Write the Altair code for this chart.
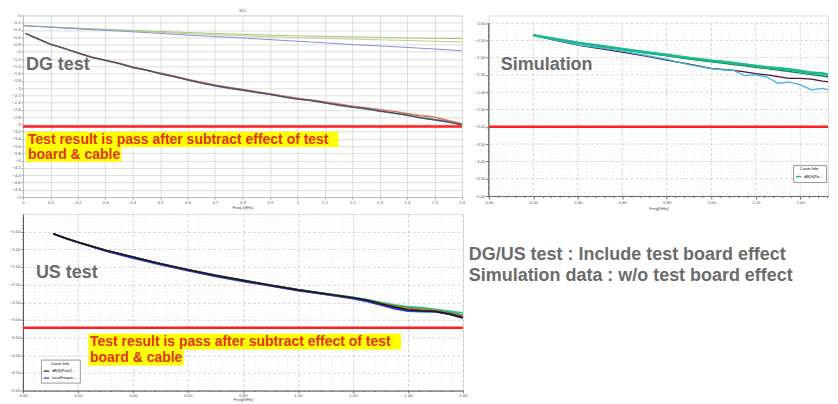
import altair as alt
import pandas as pd

FONT = "Liberation Sans"
GRAY_TXT = "#6b6b6b"
RED_TXT = "#e2311d"
YELLOW = "#ffff00"
LIMIT_RED = "#ff1f1f"

# ---------------- DG test (S12) ----------------
dg_freq = [0.01, 0.05, 0.10, 0.15, 0.20, 0.25, 0.30, 0.35, 0.40, 0.45, 0.50,
           0.55, 0.60, 0.65, 0.70, 0.75, 0.80, 0.85, 0.90, 0.95, 1.00, 1.05,
           1.10, 1.15, 1.20, 1.25, 1.30, 1.35, 1.40, 1.45, 1.50, 1.55, 1.60]
dg_orange = [-0.49, -0.62, -0.78, -0.90, -1.02, -1.14, -1.22, -1.31, -1.42, -1.49, -1.59,
             -1.67, -1.75, -1.84, -1.92, -1.97, -2.04, -2.09, -2.16, -2.21, -2.27, -2.32,
             -2.37, -2.43, -2.49, -2.53, -2.58, -2.63, -2.69, -2.74, -2.79, -2.88, -2.97]
dg_green = [-0.51, -0.64, -0.80, -0.90, -1.04, -1.16, -1.22, -1.33, -1.44, -1.49, -1.61,
            -1.69, -1.78, -1.85, -1.94, -2.00, -2.06, -2.12, -2.16, -2.25, -2.29, -2.35,
            -2.41, -2.47, -2.51, -2.58, -2.62, -2.69, -2.73, -2.80, -2.85, -2.91, -2.99]
dg_cyan = [-0.50, -0.63, -0.79, -0.92, -1.03, -1.15, -1.25, -1.32, -1.42, -1.52, -1.60,
           -1.67, -1.79, -1.85, -1.95, -2.00, -2.07, -2.13, -2.18, -2.23, -2.31, -2.34,
           -2.42, -2.47, -2.53, -2.59, -2.64, -2.70, -2.76, -2.81, -2.89, -2.94, -3.02]
dg_red = [-0.50, -0.62, -0.78, -0.91, -1.02, -1.14, -1.24, -1.31, -1.41, -1.51, -1.58,
          -1.66, -1.76, -1.83, -1.91, -1.98, -2.03, -2.10, -2.15, -2.22, -2.28, -2.34,
          -2.38, -2.44, -2.50, -2.55, -2.60, -2.64, -2.71, -2.77, -2.80, -2.90, -2.98]
dg_purple = [-0.50, -0.64, -0.80, -0.91, -1.04, -1.16, -1.24, -1.33, -1.44, -1.51, -1.61,
             -1.69, -1.78, -1.87, -1.94, -2.01, -2.06, -2.12, -2.18, -2.25, -2.31, -2.35,
             -2.41, -2.48, -2.53, -2.57, -2.64, -2.69, -2.75, -2.83, -2.88, -2.94, -3.02]
dg_dark = [-0.50, -0.63, -0.79, -0.90, -1.03, -1.15, -1.23, -1.32, -1.43, -1.50, -1.60,
           -1.68, -1.77, -1.86, -1.93, -1.99, -2.05, -2.11, -2.17, -2.24, -2.30, -2.33,
           -2.40, -2.46, -2.52, -2.56, -2.63, -2.68, -2.74, -2.82, -2.87, -2.93, -3.01]
dg_ref_freq = [0.0, 0.2, 0.4, 0.6, 0.8, 1.0, 1.2, 1.4, 1.6]
dg_ref_green = [-0.28, -0.35, -0.41, -0.47, -0.52, -0.56, -0.59, -0.62, -0.64]
dg_ref_olive = [-0.28, -0.36, -0.43, -0.50, -0.56, -0.61, -0.65, -0.69, -0.73]
dg_ref_blue = [-0.28, -0.37, -0.45, -0.54, -0.62, -0.71, -0.80, -0.88, -0.97]
dg_limit = -3.06
dg_x_ticks = [round(i * 0.1, 1) for i in range(17)]
dg_y_ticks = [round(-i * 0.2, 1) for i in range(26)]

# ---------------- Simulation ----------------
sim_freq = [0.20, 0.30, 0.40, 0.50, 0.60, 0.70, 0.80, 0.90, 1.00, 1.05, 1.10,
            1.15, 1.20, 1.25, 1.30, 1.35, 1.40, 1.45, 1.50, 1.55, 1.60]
sim_dark = [-0.35, -0.50, -0.64, -0.74, -0.84, -0.95, -1.07, -1.19, -1.31, -1.34, -1.37,
            -1.41, -1.46, -1.50, -1.55, -1.60, -1.60, -1.62, -1.68, -1.71, -1.71]
sim_cyan = [-0.35, -0.49, -0.63, -0.72, -0.81, -0.93, -1.05, -1.20, -1.32, -1.35, -1.37,
            -1.52, -1.50, -1.56, -1.74, -1.71, -1.78, -1.93, -1.89, -1.96, -2.06]
sim_dkteal = [-0.35, -0.47, -0.58, -0.67, -0.77, -0.86, -0.95, -1.04, -1.12, -1.16, -1.20,
              -1.24, -1.28, -1.32, -1.36, -1.40, -1.45, -1.49, -1.53, -1.58, -1.62]
sim_ltgreen = [-0.35, -0.45, -0.56, -0.65, -0.74, -0.83, -0.91, -0.99, -1.07, -1.10, -1.14,
               -1.18, -1.22, -1.26, -1.29, -1.32, -1.37, -1.41, -1.44, -1.50, -1.53]
sim_teal = [-0.35, -0.46, -0.57, -0.66, -0.75, -0.84, -0.92, -1.01, -1.09, -1.12, -1.16,
            -1.20, -1.24, -1.28, -1.31, -1.34, -1.39, -1.44, -1.46, -1.53, -1.56]
sim_limit = -3.0

# ---------------- US test ----------------
us_freq = [0.11, 0.15, 0.20, 0.30, 0.40, 0.50, 0.60, 0.70, 0.80, 0.90, 1.00,
           1.10, 1.20, 1.25, 1.30, 1.35, 1.40, 1.45, 1.50, 1.55, 1.60]
us_teal = [-0.56, -0.67, -0.80, -1.03, -1.22, -1.40, -1.57, -1.73, -1.87, -2.01, -2.14,
           -2.25, -2.36, -2.42, -2.50, -2.57, -2.62, -2.65, -2.70, -2.75, -2.80]
us_green = [-0.56, -0.67, -0.80, -1.03, -1.22, -1.41, -1.58, -1.73, -1.88, -2.01, -2.14,
            -2.25, -2.36, -2.43, -2.51, -2.59, -2.65, -2.68, -2.72, -2.78, -2.86]
us_orange = [-0.56, -0.67, -0.80, -1.03, -1.22, -1.41, -1.58, -1.74, -1.88, -2.02, -2.15,
             -2.26, -2.37, -2.45, -2.53, -2.61, -2.67, -2.71, -2.74, -2.81, -2.90]
us_red = [-0.56, -0.67, -0.80, -1.03, -1.22, -1.41, -1.58, -1.74, -1.89, -2.02, -2.15,
          -2.27, -2.38, -2.45, -2.55, -2.64, -2.72, -2.74, -2.75, -2.82, -2.92]
us_purple = [-0.56, -0.67, -0.80, -1.04, -1.23, -1.42, -1.59, -1.75, -1.89, -2.03, -2.16,
             -2.27, -2.38, -2.46, -2.56, -2.65, -2.73, -2.75, -2.77, -2.84, -2.94]
us_blue = [-0.56, -0.68, -0.81, -1.05, -1.25, -1.44, -1.61, -1.77, -1.91, -2.04, -2.17,
           -2.28, -2.40, -2.48, -2.58, -2.68, -2.75, -2.77, -2.77, -2.84, -2.95]
us_black = [-0.56, -0.67, -0.80, -1.03, -1.22, -1.41, -1.58, -1.74, -1.88, -2.02, -2.15,
            -2.26, -2.37, -2.44, -2.54, -2.63, -2.71, -2.74, -2.76, -2.83, -2.93]
us_limit = -3.22

# ---------------- annotations ----------------
note_lines = ["Test result is pass after subtract effect of test", "board & cable"]
side_lines = ["DG/US test : Include test board effect",
              "Simulation data : w/o test board effect"]


def long_df(freq, series):
    rows = []
    for name, vals in series:
        for f, v in zip(freq, vals):
            rows.append({"freq": f, "value": v, "series": name})
    return pd.DataFrame(rows)


def is_major(v, k):
    return abs(v * k - round(v * k)) < 0.01


def major(k):
    return f"abs(datum.value*{k} - round(datum.value*{k})) < 0.01"


def cond(test, a, b):
    return {"condition": {"test": test, "value": a}, "value": b}


LAB = dict(labelFont=FONT, labelFontSize=4.2, labelColor="#555555",
           titleFont=FONT, titleFontSize=4.2, titleColor="#444444",
           titleFontWeight="normal", labelOverlap=False, labelFlush=False,
           tickCount=300)
t5 = major(5)
t2 = major(2)

# ======== DG chart ========
dg_series = [("ref_olive", dg_ref_olive), ("ref_green", dg_ref_green), ("ref_blue", dg_ref_blue)]
dg_bundle = [("orange", dg_orange), ("green", dg_green), ("cyan", dg_cyan),
             ("red", dg_red), ("purple", dg_purple), ("dark", dg_dark)]
dg_df = pd.concat([long_df(dg_ref_freq, dg_series), long_df(dg_freq, dg_bundle)])
dg_names = [n for n, _ in dg_series] + [n for n, _ in dg_bundle]
dg_colors = ["#c9c98e", "#9ccc7a", "#8a8fdc", "#eba070", "#7dbb5a", "#58c0d0",
             "#d4605a", "#6a5a9a", "#4b4b5e"]

dg_x = alt.X("freq:Q", scale=alt.Scale(domain=[0, 1.6], nice=False, zero=False),
             axis=alt.Axis(values=dg_x_ticks, format="~g", title="Freq (GHz)",
                           gridColor="#d6d6d6", gridWidth=0.8, tickSize=2,
                           tickColor="#999999", domainColor="#bbbbbb",
                           labelPadding=1, titlePadding=1, **LAB))
dg_y = alt.Y("value:Q", scale=alt.Scale(domain=[-5, 0], nice=False),
             axis=alt.Axis(values=dg_y_ticks, format="~g", title=None,
                           gridColor="#d6d6d6", gridWidth=0.8, tickSize=2,
                           tickColor="#999999", domainColor="#bbbbbb",
                           labelPadding=1, minExtent=14, maxExtent=14, **LAB))

dg_lines = alt.Chart(dg_df).mark_line(strokeWidth=1, clip=True).encode(
    x=dg_x, y=dg_y,
    color=alt.Color("series:N", scale=alt.Scale(domain=dg_names, range=dg_colors), legend=None),
)
dg_rule = alt.Chart(pd.DataFrame({"value": [dg_limit]})).mark_rule(
    color=LIMIT_RED, strokeWidth=2.5).encode(y="value:Q")
dg_hl = alt.Chart(pd.DataFrame({
    "freq": [0.011, 0.011], "freq2": [1.15, 0.358],
    "value": [-3.20, -3.62], "value2": [-3.62, -4.03]})).mark_rect(color=YELLOW).encode(
    x="freq:Q", x2="freq2", y="value:Q", y2="value2")
dg_note = alt.Chart(pd.DataFrame({"freq": [0.018, 0.018], "value": [-3.43, -3.85],
                                  "text": note_lines})).mark_text(
    align="left", baseline="middle", font=FONT, fontSize=14, fontWeight="bold",
    color=RED_TXT).encode(x="freq:Q", y="value:Q", text="text:N")
dg_label = alt.Chart(pd.DataFrame({"freq": [0.011], "value": [-1.36], "text": ["DG test"]})).mark_text(
    align="left", baseline="middle", font=FONT, fontSize=18, fontWeight="bold",
    color=GRAY_TXT).encode(x="freq:Q", y="value:Q", text="text:N")

dg_chart = alt.layer(dg_lines, dg_rule, dg_hl, dg_note, dg_label).properties(
    width=440, height=182,
    title=alt.TitleParams("S12", font=FONT, fontSize=4, fontWeight="normal",
                          color="#555555", offset=0))

# ======== Simulation chart ========
sim_thin = [("sim_ltgreen", sim_ltgreen), ("sim_dkteal", sim_dkteal),
            ("sim_dark", sim_dark), ("sim_cyan", sim_cyan)]
sim_names = ["dB(S(Port2,Port1))"] + [n for n, _ in sim_thin]
sim_colors = ["#19b98a", "#4fd9a3", "#0e7d62", "#4a1436", "#3cb4e6"]
sim_thin_df = long_df(sim_freq, sim_thin)
sim_thick_df = long_df(sim_freq, [("dB(S(Port2,Port1))", sim_teal)])

sim_x_ticks = [round(i * 0.04, 2) for i in range(39)]
sim_y_ticks = [round(-i * 0.1, 1) for i in range(51)]
sim_top = 0.22   # blank slide band above the 0.00 line
sim_xmax = 1.525  # the panel is cut by the slide edge

vgrid = pd.DataFrame({"freq": sim_x_ticks, "value": [0.0] * len(sim_x_ticks),
                      "value2": [-5.0] * len(sim_x_ticks),
                      "major": [is_major(v, 5) for v in sim_x_ticks]})
vgrid = vgrid[vgrid["freq"] <= sim_xmax]
hgrid = pd.DataFrame({"value": sim_y_ticks,
                      "major": [is_major(v, 2) for v in sim_y_ticks]})
sim_x_vals = [v for v in sim_x_ticks if v <= sim_xmax]

sim_x = alt.X("freq:Q", scale=alt.Scale(domain=[0, sim_xmax], nice=False, zero=False),
              axis=alt.Axis(values=sim_x_vals, title="Freq[GHz]", grid=False,
                            labelExpr=f"{t5} ? format(datum.value, '.2f') : ''",
                            tickSize=cond(t5, 3, 1.5), tickColor="#666666",
                            domainColor="#555555", labelPadding=1, titlePadding=2, **LAB))
sim_y = alt.Y("value:Q", scale=alt.Scale(domain=[-5, sim_top], nice=False, zero=False),
              axis=alt.Axis(values=sim_y_ticks, title=None, grid=False, domain=False,
                            labelExpr=f"{t2} ? format(datum.value, '.2f') : ''",
                            tickSize=cond(t2, 3, 1.5), tickColor="#666666",
                            labelPadding=1, **LAB))

sim_vminor = alt.Chart(vgrid[~vgrid["major"]]).mark_rule(
    color="#e6e6e6", strokeDash=[1, 2], strokeWidth=0.7).encode(
    x=sim_x, y=sim_y, y2="value2")
sim_vmajor = alt.Chart(vgrid[vgrid["major"]]).mark_rule(
    color="#c4c4c4", strokeDash=[3, 2], strokeWidth=0.7).encode(
    x="freq:Q", y="value:Q", y2="value2")
sim_hminor = alt.Chart(hgrid[~hgrid["major"]]).mark_rule(
    color="#e6e6e6", strokeDash=[1, 2], strokeWidth=0.7).encode(y="value:Q")
sim_hmajor = alt.Chart(hgrid[hgrid["major"]]).mark_rule(
    color="#c4c4c4", strokeDash=[3, 2], strokeWidth=0.7).encode(y="value:Q")
sim_yline = alt.Chart(pd.DataFrame({"freq": [0.0], "value": [0.0], "value2": [-5.0]})).mark_rule(
    color="#555555", strokeWidth=1).encode(x="freq:Q", y="value:Q", y2="value2")

sim_color = alt.Color("series:N", scale=alt.Scale(domain=sim_names, range=sim_colors),
                      legend=alt.Legend(values=["dB(S(Port2,Port1))"], orient="none",
                                        legendX=305, legendY=150, title="Curve Info",
                                        titleFont=FONT, labelFont=FONT, titleFontSize=4,
                                        labelFontSize=4, titleFontWeight="normal",
                                        titleAnchor="middle", fillColor="white",
                                        strokeColor="#999999", padding=2,
                                        symbolType="stroke", symbolStrokeWidth=1.5,
                                        symbolSize=30, labelLimit=20, titlePadding=2,
                                        labelOffset=2))
sim_lines1 = alt.Chart(sim_thin_df).mark_line(strokeWidth=1.3, clip=True).encode(
    x="freq:Q", y="value:Q", color=sim_color)
sim_lines2 = alt.Chart(sim_thick_df).mark_line(strokeWidth=2.6, clip=True).encode(
    x="freq:Q", y="value:Q", color="series:N")
sim_rule = alt.Chart(pd.DataFrame({"value": [sim_limit]})).mark_rule(
    color=LIMIT_RED, strokeWidth=2.5).encode(y="value:Q")
sim_label = alt.Chart(pd.DataFrame({"freq": [0.054], "value": [-1.21], "text": ["Simulation"]})).mark_text(
    align="left", baseline="middle", font=FONT, fontSize=18, fontWeight="bold",
    color=GRAY_TXT).encode(x="freq:Q", y="value:Q", text="text:N")
side_note = alt.Chart(pd.DataFrame({"freq": [-0.09, -0.09], "value": [-6.70, -7.31],
                                    "text": side_lines})).mark_text(
    align="left", baseline="middle", font=FONT, fontSize=18, fontWeight="bold",
    color=GRAY_TXT).encode(x="freq:Q", y="value:Q", text="text:N")

sim_chart = alt.layer(sim_vminor, sim_vmajor, sim_hminor, sim_hmajor, sim_yline,
                      sim_lines1, sim_lines2, sim_rule, sim_label, side_note).properties(
    width=340, height=181)

# ======== US chart ========
us_series = [("us_teal", us_teal), ("us_green", us_green), ("us_orange", us_orange),
             ("us_red", us_red), ("us_purple", us_purple), ("LossFrequency", us_blue),
             ("dB(S(Port2,Port1))", us_black)]
us_df = long_df(us_freq, us_series)
us_names = [n for n, _ in us_series]
us_colors = ["#2fc4b4", "#3aaa3a", "#c8782a", "#c02828", "#7a3aa5", "#2f3fd0", "#1a1a1a"]

us_x_ticks = [round(i * 0.04, 2) for i in range(41)]
us_y_ticks = [round(-i * 0.1, 1) for i in range(1, 51)]
us_x = alt.X("freq:Q", scale=alt.Scale(domain=[0, 1.6], nice=False, zero=False),
             axis=alt.Axis(values=us_x_ticks, title="Freq[GHz]",
                           labelExpr=f"{t5} ? format(datum.value, '.2f') : ''",
                           tickSize=cond(t5, 2, 1), tickColor="#666666",
                           gridColor=cond(t5, "#c4c4c4", "#e6e6e6"),
                           gridDash=cond(t5, [3, 2], [1, 2]), gridWidth=0.7,
                           domainColor="#555555", labelPadding=0.5, titlePadding=0, **LAB))
us_y = alt.Y("value:Q", scale=alt.Scale(domain=[-5, 0], nice=False),
             axis=alt.Axis(values=us_y_ticks, title=None,
                           labelExpr=f"{t2} ? format(datum.value, '.2f') : ''",
                           tickSize=cond(t2, 2, 1), tickColor="#666666",
                           gridColor=cond(t2, "#c4c4c4", "#e6e6e6"),
                           gridDash=cond(t2, [3, 2], [1, 2]), gridWidth=0.7,
                           domainColor="#555555", labelPadding=1,
                           minExtent=14, maxExtent=14, **LAB))
us_lines = alt.Chart(us_df).mark_line(strokeWidth=1.6, clip=True).encode(
    x=us_x, y=us_y,
    color=alt.Color("series:N", scale=alt.Scale(domain=us_names, range=us_colors),
                    legend=alt.Legend(values=["dB(S(Port2,Port1))", "LossFrequency"],
                                      orient="none", legendX=18, legendY=146,
                                      title="Curve Info", titleFont=FONT, labelFont=FONT,
                                      titleFontSize=4, labelFontSize=4,
                                      titleFontWeight="normal", titleAnchor="middle",
                                      fillColor="white", strokeColor="#999999",
                                      padding=2, symbolType="stroke",
                                      symbolStrokeWidth=1.2, symbolSize=30,
                                      labelLimit=26, titlePadding=2, rowPadding=1,
                                      labelOffset=2)))
us_rule = alt.Chart(pd.DataFrame({"value": [us_limit]})).mark_rule(
    color=LIMIT_RED, strokeWidth=2.5).encode(y="value:Q")
us_hl = alt.Chart(pd.DataFrame({
    "freq": [0.238, 0.238], "freq2": [1.375, 0.584],
    "value": [-3.39, -3.84], "value2": [-3.84, -4.29]})).mark_rect(color=YELLOW).encode(
    x="freq:Q", x2="freq2", y="value:Q", y2="value2")
us_note = alt.Chart(pd.DataFrame({"freq": [0.244, 0.244], "value": [-3.62, -4.07],
                                  "text": note_lines})).mark_text(
    align="left", baseline="middle", font=FONT, fontSize=14, fontWeight="bold",
    color=RED_TXT).encode(x="freq:Q", y="value:Q", text="text:N")
us_label = alt.Chart(pd.DataFrame({"freq": [0.047], "value": [-1.68], "text": ["US test"]})).mark_text(
    align="left", baseline="middle", font=FONT, fontSize=18, fontWeight="bold",
    color=GRAY_TXT).encode(x="freq:Q", y="value:Q", text="text:N")

us_chart = alt.layer(us_lines, us_rule, us_hl, us_note, us_label).properties(
    width=441, height=177)

left_col = alt.vconcat(dg_chart, us_chart, spacing=3).resolve_scale(color="independent")
chart = alt.hconcat(left_col, sim_chart, spacing=0).resolve_scale(
    color="independent").properties(padding=0).configure_view(
    stroke="transparent", strokeWidth=0).configure(font=FONT)

chart.save("out.html", embed_options={"renderer": "svg", "actions": False})
